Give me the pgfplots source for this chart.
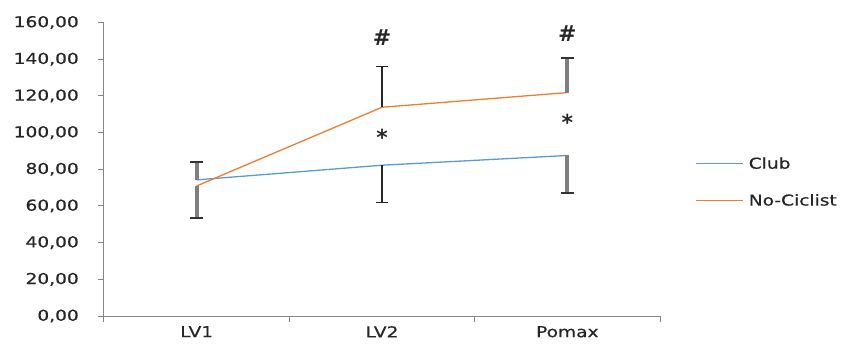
\documentclass[border=0pt]{standalone}
\usepackage{fontspec}
\setmainfont{DejaVu Sans}[FakeStretch=1.24,FakeBold=0.6]
\newfontfamily\symfont{DejaVu Sans Bold}
\usepackage{pgfplots}
\pgfplotsset{compat=1.18}
\definecolor{clubblue}{HTML}{5B9BD5}
\definecolor{ncorange}{HTML}{ED7D31}
\definecolor{axgray}{HTML}{868686}
\definecolor{labcol}{HTML}{262626}
\definecolor{ebgray}{HTML}{7F7F7F}
\begin{document}
\begin{tikzpicture}[x=1pt,y=1pt]
\path[use as bounding box] (-104,-33) rectangle (741,316);
\begin{axis}[
  at={(0,0)}, anchor=south west,
  scale only axis, width=556pt, height=293.5pt,
  xmin=0.5, xmax=3.5, ymin=0, ymax=160,
  ytick={0,20,...,160},
  xtick={1,2,3}, xticklabels={LV1,LV2,Pomax},
  minor xtick={0.5,1.5,2.5,3.5},
  axis lines*=left,
  axis line style={axgray, line width=1pt},
  tick align=outside,
  major tick length=6pt, minor tick length=6pt,
  tick style={axgray, line width=1pt},
  major x tick style={draw=none},
  every tick label/.append style={font=\fontsize{15}{17}\selectfont, text=labcol},
  /pgf/number format/.cd, fixed, fixed zerofill, precision=2, use comma, assume math mode=true,
  /pgfplots/.cd,
  yticklabel style={inner sep=0pt, anchor=east, xshift=-19pt},
  xticklabel style={inner sep=0pt, anchor=north, yshift=-4pt},
  legend style={draw=none, fill=none, at={(1.058,0.456)}, anchor=west,
    nodes={inner sep=0pt, font=\fontsize{15}{17}\selectfont, text=labcol},
    column sep=5pt, row sep=24pt},
  legend cell align=left,
  legend image code/.code={\draw[#1] (0pt,0pt) -- (47pt,0pt);},
  clip=false,
]
\addplot[clubblue, line width=1.3pt, no marks] coordinates {(1,74.2) (2,82.2) (3,87.5)};
\addlegendentry{Club}
\addplot[ncorange, line width=1.3pt, no marks] coordinates {(1,70.9) (2,113.8) (3,121.8)};
\addlegendentry{No-Ciclist}
% gray thick error bars (LV1, Pomax)
\addplot[forget plot, draw=none, no marks, error bars/.cd, y dir=plus, y explicit,
  error bar style={ebgray, line width=4pt},
  error mark options={rotate=90, black!80, mark size=6.3pt, line width=2pt}]
  coordinates {(1,74.2) +- (0,9.8) (3,121.8) +- (0,18.6)};
\addplot[forget plot, draw=none, no marks, error bars/.cd, y dir=minus, y explicit,
  error bar style={ebgray, line width=4pt},
  error mark options={rotate=90, black!80, mark size=6.3pt, line width=2pt}]
  coordinates {(1,70.9) +- (0,17.3) (3,87.5) +- (0,20.4)};
% black thin error bars (LV2)
\addplot[forget plot, draw=none, no marks, error bars/.cd, y dir=plus, y explicit,
  error bar style={black!85, line width=1.6pt},
  error mark options={rotate=90, black!85, mark size=6.3pt, line width=1.6pt}]
  coordinates {(2,113.8) +- (0,22.2)};
\addplot[forget plot, draw=none, no marks, error bars/.cd, y dir=minus, y explicit,
  error bar style={black!85, line width=1.6pt},
  error mark options={rotate=90, black!85, mark size=6.3pt, line width=1.6pt}]
  coordinates {(2,82.2) +- (0,20.4)};
\node[font=\symfont\fontsize{22}{24}\selectfont, text=black!85] at (axis cs:2,151.7) {\#};
\node[font=\symfont\fontsize{22}{24}\selectfont, text=black!85] at (axis cs:3,154.2) {\#};
\node[font=\symfont\fontsize{22}{24}\selectfont, text=black!85] at (axis cs:2,97.2) {*};
\node[font=\symfont\fontsize{22}{24}\selectfont, text=black!85] at (axis cs:3,105.4) {*};
\end{axis}
\end{tikzpicture}
\end{document}
